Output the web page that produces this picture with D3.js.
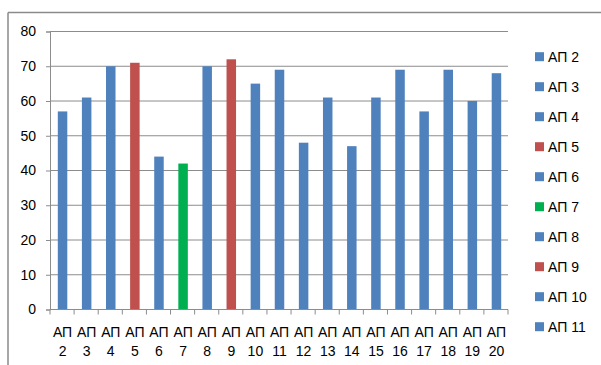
<!DOCTYPE html>
<html>
<head>
<meta charset="utf-8">
<script src="https://cdn.jsdelivr.net/npm/d3@7"></script>
<style>
  html, body { margin: 0; padding: 0; background: #fff; }
  svg { display: block; }
  text { font-family: "Liberation Sans", "DejaVu Sans", sans-serif; fill: #000; }
</style>
</head>
<body>
<svg id="chart" width="601" height="365"></svg>
<script>
// Points per site
const categories = ["АП 2","АП 3","АП 4","АП 5","АП 6","АП 7","АП 8","АП 9","АП 10","АП 11",
                    "АП 12","АП 13","АП 14","АП 15","АП 16","АП 17","АП 18","АП 19","АП 20"];
const values = [57, 61, 70, 71, 44, 42, 70, 72, 65, 69, 48, 61, 47, 61, 69, 57, 69, 60, 68];
// Highlight group of each bar: 0 = regular, 1 = red, 2 = green
const groups = [0, 0, 0, 1, 0, 2, 0, 1, 0, 0, 0, 0, 0, 0, 0, 0, 0, 0, 0];
const palette = ["#4F81BD", "#C0504D", "#00B050"];
const yTicks = [0, 10, 20, 30, 40, 50, 60, 70, 80];
// The legend only has room for the first ten entries
const legendCount = 10;

const svg = d3.select("#chart");

// Outer chart frame (top and left edges)
svg.append("line").attr("x1", 8).attr("x2", 601).attr("y1", 12.5).attr("y2", 12.5)
  .attr("stroke", "#8a8a8a").attr("stroke-width", 1.5);
svg.append("line").attr("x1", 8).attr("x2", 8).attr("y1", 12.5).attr("y2", 365)
  .attr("stroke", "#8a8a8a").attr("stroke-width", 1.5);

const plot = { left: 50, right: 508, top: 31.5, bottom: 309.5 };

const x = d3.scaleBand().domain(categories).range([plot.left, plot.right]).paddingInner(0).paddingOuter(0);
const y = d3.scaleLinear().domain([0, 80]).range([plot.bottom, plot.top]);

// Horizontal gridlines
svg.append("g").selectAll("line").data(yTicks.filter(d => d > 0)).join("line")
  .attr("x1", plot.left).attr("x2", plot.right)
  .attr("y1", d => y(d)).attr("y2", d => y(d))
  .attr("stroke", "#8c8c8c").attr("stroke-width", 1);

// Y axis
const yAxis = svg.append("g").attr("transform", `translate(${plot.left},0)`)
  .call(d3.axisLeft(y).tickValues(yTicks).tickSize(4).tickPadding(10));
yAxis.select(".domain").attr("stroke", "#8c8c8c");
yAxis.selectAll(".tick line").attr("stroke", "#8c8c8c");
yAxis.selectAll(".tick text").attr("font-size", 14).attr("fill", "#000")
  .style("font-family", "'Liberation Sans', sans-serif");

// Bars
const barW = 9.5;
svg.append("g").selectAll("rect").data(values).join("rect")
  .attr("x", (d, i) => x(categories[i]) + x.bandwidth() / 2 - barW / 2 + 0.5)
  .attr("width", barW)
  .attr("y", d => y(d))
  .attr("height", d => y(0) - y(d))
  .attr("fill", (d, i) => palette[groups[i]]);

// X axis with ticks at category boundaries
const xg = svg.append("g");
xg.append("line").attr("x1", plot.left).attr("x2", plot.right)
  .attr("y1", plot.bottom).attr("y2", plot.bottom).attr("stroke", "#8c8c8c");
const bounds = d3.range(categories.length + 1).map(i => plot.left + i * x.step());
xg.selectAll("line.b").data(bounds).join("line").attr("class", "b")
  .attr("x1", d => d).attr("x2", d => d)
  .attr("y1", plot.bottom).attr("y2", plot.bottom + 5)
  .attr("stroke", "#8c8c8c");
const labels = xg.selectAll("text").data(categories).join("text")
  .attr("text-anchor", "middle")
  .attr("font-size", 14);
labels.append("tspan")
  .attr("x", d => x(d) + x.bandwidth() / 2 + 0.5).attr("y", 336.5)
  .text(d => d.split(" ")[0]);
labels.append("tspan")
  .attr("x", d => x(d) + x.bandwidth() / 2 + 0.5).attr("y", 355.5)
  .text(d => d.split(" ")[1]);

// Legend
const legend = svg.append("g").selectAll("g").data(categories.slice(0, legendCount)).join("g")
  .attr("transform", (d, i) => `translate(535,${56.7 + i * 30})`);
legend.append("rect").attr("x", 0).attr("y", -4.5).attr("width", 9).attr("height", 9)
  .attr("fill", (d, i) => palette[groups[i]]);
legend.append("text").attr("x", 13).attr("y", 5).attr("font-size", 14).text(d => d);
</script>
</body>
</html>
